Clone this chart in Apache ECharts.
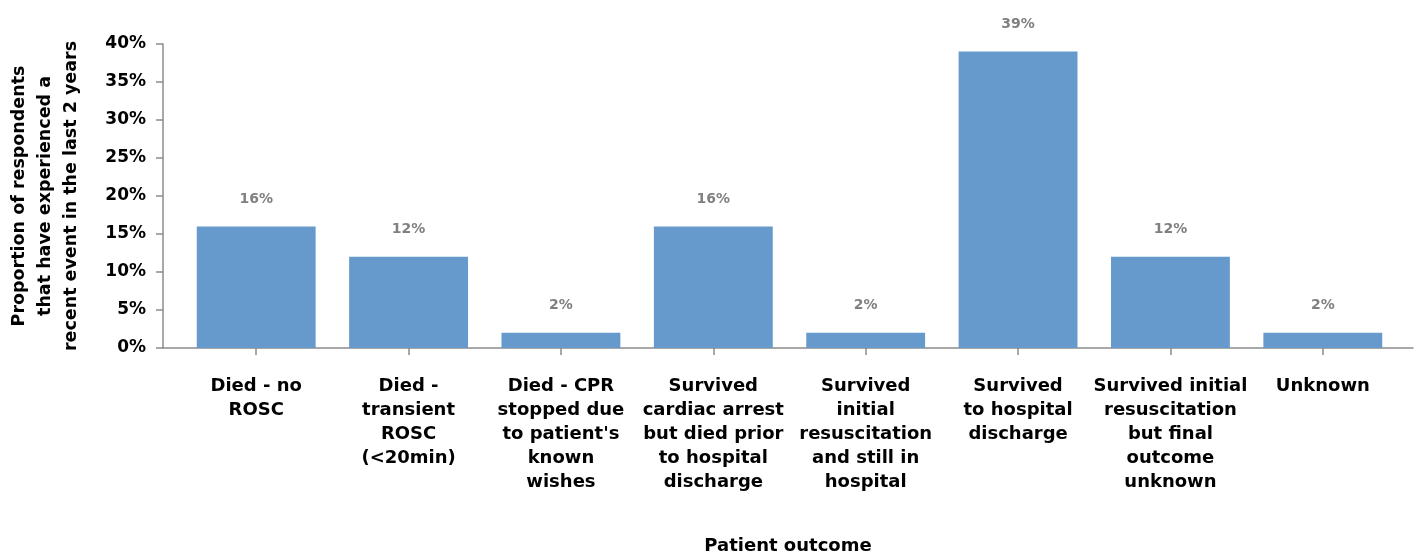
<!DOCTYPE html>
<html>
<head>
<meta charset="utf-8">
<script src="https://cdn.jsdelivr.net/npm/echarts@6/dist/echarts.min.js"></script>
<style>
  html, body { margin: 0; padding: 0; background: #fff; }
  #chart { width: 1421px; height: 559px; }
</style>
</head>
<body>
<div id="chart"></div>
<script>
// Patient outcomes (share of respondents, %)
const categories = [
  'Died - no\nROSC',
  'Died -\ntransient\nROSC\n(<20min)',
  "Died - CPR\nstopped due\nto patient's\nknown\nwishes",
  'Survived\ncardiac arrest\nbut died prior\nto hospital\ndischarge',
  'Survived\ninitial\nresuscitation\nand still in\nhospital',
  'Survived\nto hospital\ndischarge',
  'Survived initial\nresuscitation\nbut final\noutcome\nunknown',
  'Unknown'
];
const values = [16, 12, 2, 16, 2, 39, 12, 2];
const yTicks = { min: 0, max: 40, interval: 5 };

const FONT = '"DejaVu Sans"';
const AXIS_GREY = '#8c8c8c';

const chart = echarts.init(document.getElementById('chart'), null, { renderer: 'canvas' });
chart.setOption({
  animation: false,
  textStyle: { fontFamily: FONT },
  grid: [
    // bars and category labels
    { left: 180, right: 22, top: 44, bottom: 211, outerBoundsMode: 'none' },
    // full-width baseline and x-axis title
    { left: 163, right: 8, top: 44, bottom: 211, outerBoundsMode: 'none' }
  ],
  xAxis: [
    {
      type: 'category',
      gridIndex: 0,
      data: categories,
      axisLine: { show: false },
      axisTick: { show: true, alignWithLabel: true, length: 7, lineStyle: { color: AXIS_GREY, width: 1.5 } },
      axisLabel: {
        interval: 0, color: '#000', fontFamily: FONT, fontWeight: 'bold',
        fontSize: 18, lineHeight: 24, margin: 26
      }
    },
    {
      type: 'value',
      gridIndex: 1,
      min: 0, max: 1,
      position: 'bottom',
      axisLine: { show: true, onZero: false, lineStyle: { color: AXIS_GREY, width: 1.5 } },
      axisTick: { show: false },
      axisLabel: { show: false },
      splitLine: { show: false },
      name: 'Patient outcome',
      nameLocation: 'middle',
      nameGap: 189,
      nameMoveOverlap: false,
      nameTextStyle: { color: '#000', fontFamily: FONT, fontWeight: 'bold', fontSize: 18 }
    }
  ],
  yAxis: [
    {
      type: 'value',
      gridIndex: 0,
      min: yTicks.min, max: yTicks.max, interval: yTicks.interval,
      offset: 17,
      axisLine: { show: true, lineStyle: { color: AXIS_GREY, width: 1.5 } },
      axisTick: { show: true, length: 7, lineStyle: { color: AXIS_GREY, width: 1.5 } },
      splitLine: { show: false },
      axisLabel: {
        formatter: '{value}%', color: '#000', fontFamily: FONT, fontWeight: 'bold',
        fontSize: 17, margin: 17
      },
      name: 'Proportion of respondents\nthat have experienced a\nrecent event in the last 2 years',
      nameLocation: 'middle',
      nameRotate: 90,
      nameGap: 79,
      nameMoveOverlap: false,
      nameTextStyle: { color: '#000', fontFamily: FONT, fontWeight: 'bold', fontSize: 17.5, lineHeight: 26, align: 'center' }
    },
    {
      type: 'value', gridIndex: 1, show: false
    }
  ],
  series: [{
    type: 'bar',
    xAxisIndex: 0,
    yAxisIndex: 0,
    data: values,
    barCategoryGap: '22%',
    itemStyle: { color: '#6699cc' },
    label: {
      show: true,
      position: 'top',
      distance: 20,
      formatter: '{c}%',
      color: '#808080',
      fontFamily: FONT,
      fontWeight: 'bold',
      fontSize: 14
    }
  }]
});
</script>
</body>
</html>
